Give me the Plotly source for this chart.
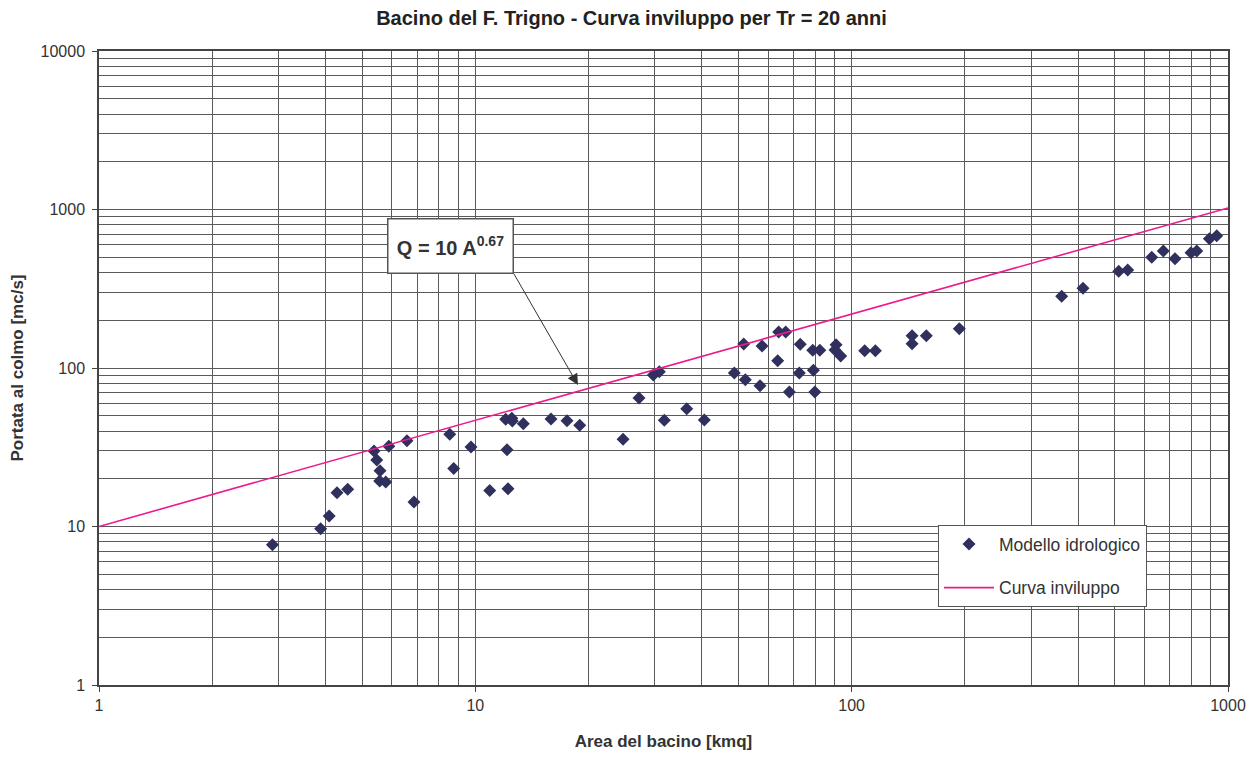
import plotly.graph_objects as go

area = [2.89, 3.88, 4.09, 4.29, 4.58, 5.38, 5.47, 5.58, 5.57, 5.78, 5.89, 6.58, 6.87,
        8.55, 8.76, 9.74, 10.92, 12.04, 12.50, 12.54, 12.14, 12.21, 13.41, 15.89, 17.52,
        18.94, 24.69, 27.22, 29.71, 30.82, 31.78, 36.45, 40.59, 48.77, 51.66, 52.17,
        57.07, 57.79, 63.6, 63.99, 66.79, 68.3, 72.6, 73.0, 79.1, 79.8, 78.8, 82.3,
        90.9, 90.3, 93.5, 108.3, 115.6, 144.7, 144.7, 157.9, 193.2, 361.4, 411.8,
        512.4, 541.4, 627.1, 673.1, 723.1, 797.5, 825.9, 892.2, 933.3]
portata = [7.68, 9.69, 11.65, 16.3, 17.2, 29.9, 26.3, 22.5, 19.4, 19.1, 32.1, 34.8, 14.3,
           38.2, 23.2, 31.7, 16.9, 47.5, 48.2, 46.3, 30.5, 17.3, 44.5, 47.7, 46.5,
           43.5, 35.5, 64.7, 90.3, 94.8, 46.8, 55.4, 47.0, 93.0, 141.7, 84.4,
           77.3, 137.6, 111.2, 168.7, 168.7, 70.6, 93.0, 141.1, 96.7, 70.6, 129.3, 129.3,
           140.3, 129.9, 119.0, 128.6, 128.6, 159.9, 142.3, 159.9, 177.0, 283.5, 318.3,
           407.5, 415.2, 499.4, 547.3, 489.4, 534.0, 547.3, 654.3, 683.5]

curve_area = [1, 1000]
coef = 10
expo = 0.67
curve_q = [coef * a ** expo for a in curve_area]

x_ticks = [1, 10, 100, 1000]
y_ticks = [1, 10, 100, 1000, 10000]

FONT = "Liberation Sans, Arial, sans-serif"
GRID = "#5a5a5a"
TXT = "#333333"

fig = go.Figure()
fig.add_trace(go.Scatter(
    x=area, y=portata, mode="markers", name="Modello idrologico",
    marker=dict(symbol="diamond", size=10, color="#30305e"),
    legendgroup="a"))
fig.add_trace(go.Scatter(
    x=curve_area, y=curve_q, mode="lines", name="Curva inviluppo",
    line=dict(color="#ee1a8c", width=1.6), legendgroup="b"))

axis_common = dict(
    type="log", showline=True, linecolor="#444444", linewidth=1.5, mirror=True,
    showgrid=True, gridcolor=GRID, gridwidth=1,
    ticks="outside", ticklen=5, tickcolor="#444444",
    tickfont=dict(family=FONT, size=16, color=TXT),
    minor=dict(dtick="D1", showgrid=True, gridcolor=GRID, gridwidth=1, ticks=""),
    zeroline=False, automargin=False,
)

fig.update_xaxes(
    **axis_common, range=[0, 3], tickvals=x_ticks, ticktext=[str(v) for v in x_ticks],
    title=dict(text="<b>Area del bacino [kmq]</b>", font=dict(family=FONT, size=17, color=TXT), standoff=22))
fig.update_yaxes(
    **axis_common, range=[0, 4], tickvals=y_ticks, ticktext=[str(v) for v in y_ticks],
    ticklabelstandoff=4,
    title=dict(text="<b>Portata al colmo [mc/s]</b>", font=dict(family=FONT, size=17, color=TXT), standoff=13))

# formula box with arrow starting at its bottom-right corner
fig.add_annotation(
    x=1.2728, y=1.8927, xref="x", yref="y",
    text="<b>Q = 10 A<sup>0.67</sup></b>",
    font=dict(family=FONT, size=20, color=TXT),
    bgcolor="white", bordercolor="#555555", borderwidth=1.5,
    width=122, height=51, xanchor="right", yanchor="bottom",
    showarrow=True, ax=-64, ay=-111,
    arrowhead=2, arrowsize=2.2, arrowwidth=1, arrowcolor="#333333",
    standoff=0, startstandoff=0,
)

fig.update_layout(
    width=1247, height=750,
    margin=dict(l=91, r=27, t=43, b=73, autoexpand=False),
    paper_bgcolor="white", plot_bgcolor="white",
    title=dict(text="<b>Bacino del F. Trigno - Curva inviluppo per Tr = 20 anni</b>",
               x=0.5, xref="container", xanchor="center", y=(750 - 10) / 750, yanchor="middle",
               font=dict(family=FONT, size=20, color="#222222")),
    font=dict(family=FONT, size=16, color=TXT),
    showlegend=True,
    legend=dict(
        x=(938 - 99) / 1129, y=(685 - 525) / 634, xanchor="left", yanchor="top",
        bgcolor="white", bordercolor="#555555", borderwidth=1,
        font=dict(family=FONT, size=17.5, color=TXT),
        traceorder="grouped", tracegroupgap=18, itemwidth=50,
    ),
)

fig.write_html("out.html")
